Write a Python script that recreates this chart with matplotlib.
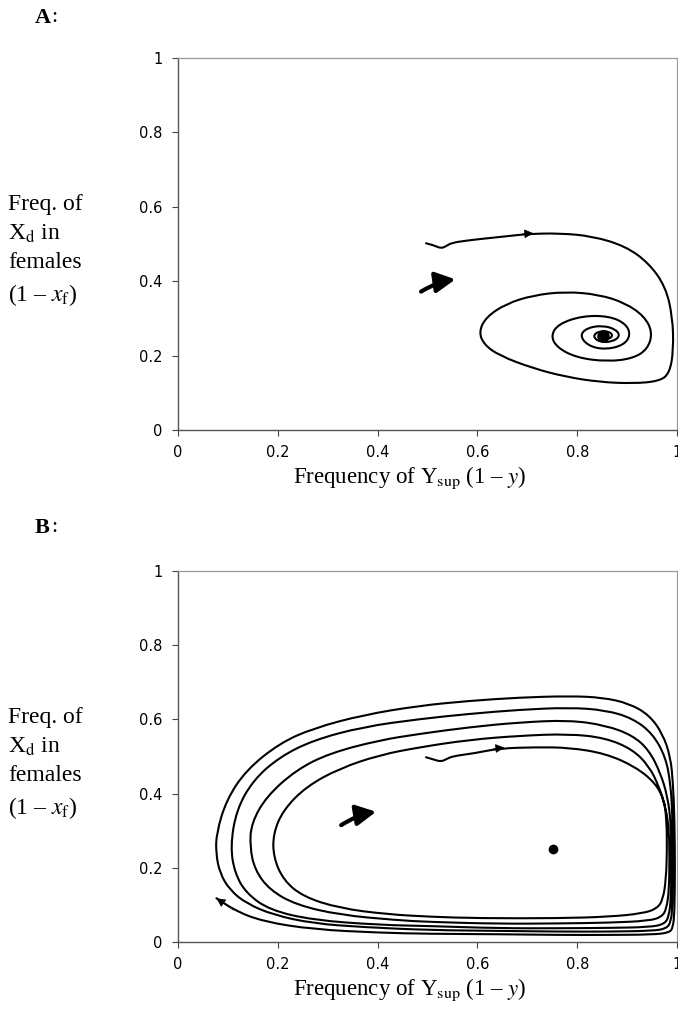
import matplotlib
matplotlib.use("Agg")
import matplotlib.pyplot as plt
from matplotlib.path import Path
from matplotlib.patches import PathPatch, FancyArrowPatch

plt.rcParams['font.family'] = ['Liberation Serif', 'DejaVu Serif']
plt.rcParams['mathtext.fontset'] = 'stix'

# ---- data ----
ticks = [0, 0.2, 0.4, 0.6, 0.8, 1]
tick_labels = ['0', '0.2', '0.4', '0.6', '0.8', '1']

# panel A: trajectory spiralling in to the equilibrium
a_traj = [(0.497, 0.502), (0.512, 0.497), (0.527, 0.488), (0.537, 0.494), (0.548, 0.503),
          (0.577, 0.509), (0.617, 0.515), (0.660, 0.521), (0.701, 0.527), (0.764, 0.529),
          (0.831, 0.521), (0.897, 0.494), (0.944, 0.448), (0.977, 0.385), (0.991, 0.305),
          (0.993, 0.215), (0.985, 0.152), (0.964, 0.131), (0.911, 0.125), (0.844, 0.129),
          (0.777, 0.143), (0.711, 0.166), (0.644, 0.200), (0.613, 0.230), (0.603, 0.264),
          (0.617, 0.303), (0.657, 0.339), (0.711, 0.362), (0.777, 0.372), (0.844, 0.364),
          (0.897, 0.341), (0.935, 0.305), (0.951, 0.262), (0.941, 0.217), (0.911, 0.192),
          (0.860, 0.184), (0.800, 0.194), (0.760, 0.221), (0.747, 0.253), (0.762, 0.285),
          (0.811, 0.307), (0.865, 0.306), (0.898, 0.285), (0.907, 0.255), (0.893, 0.228),
          (0.856, 0.216), (0.822, 0.226), (0.805, 0.254), (0.820, 0.275), (0.852, 0.281),
          (0.878, 0.270), (0.886, 0.252), (0.870, 0.237), (0.845, 0.236), (0.831, 0.252),
          (0.843, 0.266), (0.865, 0.265), (0.872, 0.252), (0.860, 0.243), (0.848, 0.247)]
a_eq = (0.852, 0.254)
a_head = [(0.690, 0.527), (0.712, 0.529)]
a_big_arrow = [(0.487, 0.372), (0.556, 0.405)]

# panel B: trajectory spiralling out towards the boundary
b_start = [(0.497, 0.498), (0.512, 0.492), (0.527, 0.486), (0.538, 0.493), (0.551, 0.501),
           (0.591, 0.508), (0.644, 0.522), (0.717, 0.525), (0.784, 0.524), (0.857, 0.508),
           (0.917, 0.472), (0.957, 0.428), (0.974, 0.383), (0.979, 0.33), (0.980, 0.25),
           (0.978, 0.17), (0.972, 0.115), (0.960, 0.090), (0.931, 0.077), (0.864, 0.068),
           (0.764, 0.064)]
b_loop1 = [(0.604, 0.064), (0.504, 0.068), (0.417, 0.075), (0.324, 0.091), (0.251, 0.122),
           (0.211, 0.167), (0.191, 0.230), (0.191, 0.293), (0.211, 0.356), (0.257, 0.419),
           (0.324, 0.468), (0.404, 0.504), (0.484, 0.525), (0.584, 0.545), (0.684, 0.556),
           (0.784, 0.561), (0.857, 0.550), (0.911, 0.519), (0.944, 0.474), (0.964, 0.419),
           (0.978, 0.36), (0.984, 0.30), (0.985, 0.22), (0.984, 0.14), (0.979, 0.09),
           (0.970, 0.068), (0.944, 0.057), (0.864, 0.052), (0.764, 0.050)]
b_loop2 = [(0.644, 0.049), (0.504, 0.054), (0.437, 0.059), (0.324, 0.073), (0.237, 0.100),
           (0.184, 0.140), (0.154, 0.194), (0.144, 0.257), (0.147, 0.320), (0.177, 0.392),
           (0.237, 0.464), (0.304, 0.509), (0.404, 0.544), (0.484, 0.561), (0.584, 0.579),
           (0.684, 0.592), (0.784, 0.598), (0.857, 0.584), (0.911, 0.557), (0.944, 0.517),
           (0.967, 0.455), (0.981, 0.392), (0.988, 0.32), (0.989, 0.22), (0.988, 0.12),
           (0.984, 0.07), (0.975, 0.048), (0.944, 0.040), (0.864, 0.038), (0.764, 0.037)]
b_loop3 = [(0.644, 0.037), (0.504, 0.043), (0.404, 0.046), (0.271, 0.059), (0.184, 0.086),
           (0.137, 0.131), (0.114, 0.185), (0.105, 0.257), (0.117, 0.356), (0.151, 0.437),
           (0.204, 0.499), (0.271, 0.544), (0.371, 0.580), (0.484, 0.601), (0.584, 0.615),
           (0.684, 0.626), (0.784, 0.632), (0.857, 0.625), (0.911, 0.603), (0.951, 0.562),
           (0.977, 0.499), (0.987, 0.428), (0.991, 0.34), (0.992, 0.22), (0.991, 0.10),
           (0.988, 0.055), (0.979, 0.036), (0.950, 0.030), (0.864, 0.028), (0.764, 0.028)]
b_loop4 = [(0.644, 0.030), (0.504, 0.032), (0.371, 0.040), (0.271, 0.050), (0.191, 0.073),
           (0.137, 0.104), (0.104, 0.140), (0.084, 0.185), (0.076, 0.239), (0.077, 0.293),
           (0.097, 0.383), (0.137, 0.464), (0.204, 0.536), (0.271, 0.576), (0.371, 0.612),
           (0.484, 0.637), (0.584, 0.650), (0.684, 0.659), (0.784, 0.663), (0.851, 0.659),
           (0.904, 0.643), (0.944, 0.612), (0.971, 0.562), (0.987, 0.499), (0.992, 0.428),
           (0.995, 0.33), (0.996, 0.20), (0.995, 0.08), (0.992, 0.040), (0.985, 0.025),
           (0.950, 0.020), (0.864, 0.019), (0.764, 0.019)]
b_end = [(0.644, 0.021), (0.504, 0.022), (0.404, 0.025), (0.271, 0.034), (0.171, 0.055),
         (0.111, 0.086), (0.077, 0.118)]
b_eq = (0.752, 0.250)
b_head = [(0.632, 0.521), (0.654, 0.524)]
b_big_arrow = [(0.327, 0.315), (0.397, 0.351)]

xlabel = r'Frequency of Y$_{\mathrm{sup}}$ (1 – $y$)'
ylabel = 'Freq. of\nX$_{\\mathrm{d}}$ in\nfemales\n(1 – $x_{\\mathrm{f}}$)'


def smooth_path(pts):
    # quadratic spline through midpoints so the trace looks hand smooth
    verts = [pts[0]]
    codes = [Path.MOVETO]
    for i in range(1, len(pts) - 1):
        nxt = pts[i + 1] if i == len(pts) - 2 else ((pts[i][0] + pts[i + 1][0]) / 2,
                                                   (pts[i][1] + pts[i + 1][1]) / 2)
        verts += [pts[i], nxt]
        codes += [Path.CURVE3, Path.CURVE3]
    return Path(verts, codes)


def style_axes(ax):
    ax.set_xlim(0, 1)
    ax.set_ylim(0, 1)
    ax.set_xticks(ticks)
    ax.set_xticklabels(tick_labels)
    ax.set_yticks(ticks)
    ax.set_yticklabels(tick_labels)
    for lab in ax.get_xticklabels() + ax.get_yticklabels():
        lab.set_family('DejaVu Sans')
        lab.set_fontsize(10.5)
    ax.tick_params(direction='out', length=4, width=0.8, color='#444444', pad=7)
    for s in ['left', 'bottom']:
        ax.spines[s].set_color('#555555')
        ax.spines[s].set_linewidth(1.0)
    for s in ['top', 'right']:
        ax.spines[s].set_color('#9a9a9a')
        ax.spines[s].set_linewidth(0.9)
    ax.set_xlabel(xlabel, fontsize=16.5)
    ax.xaxis.set_label_coords(0.465, -0.092)


def draw_panel(ax, traj, eq, eq_size, head, big_arrow):
    ax.add_patch(PathPatch(smooth_path(traj), fill=False, lw=1.5, ec='black',
                           capstyle='round', joinstyle='round'))
    ax.plot([eq[0]], [eq[1]], 'o', color='black', ms=eq_size)
    ax.add_patch(FancyArrowPatch(head[0], head[1], arrowstyle='-|>', mutation_scale=14,
                                 color='black', lw=0.5, shrinkA=0, shrinkB=0))
    ax.add_patch(FancyArrowPatch(big_arrow[0], big_arrow[1],
                                 arrowstyle='-|>,head_length=0.5,head_width=0.26',
                                 connectionstyle='arc3,rad=-0.1', mutation_scale=24,
                                 color='black', lw=3.0, shrinkA=0, shrinkB=0))


fig = plt.figure(figsize=(6.78, 10.10), dpi=100)
ax_a = fig.add_axes([178 / 678, 1 - 430 / 1010, 499 / 678, 372 / 1010])
ax_b = fig.add_axes([178 / 678, 1 - 942 / 1010, 499 / 678, 371 / 1010])

style_axes(ax_a)
style_axes(ax_b)

draw_panel(ax_a, a_traj, a_eq, 8, a_head, a_big_arrow)

b_traj = b_start + b_loop1 + b_loop2 + b_loop3 + b_loop4 + b_end
draw_panel(ax_b, b_traj, b_eq, 6, b_head, b_big_arrow)
ax_b.add_patch(FancyArrowPatch(b_end[-2], b_end[-1], arrowstyle='-|>', mutation_scale=14,
                               color='black', lw=0.5, shrinkA=0, shrinkB=0))

fig.text(35 / 678, 1 - 18 / 1010, 'A', fontsize=16, fontweight='bold', va='center')
fig.text(51 / 678, 1 - 18 / 1010, ':', fontsize=16, va='center')
fig.text(35 / 678, 1 - 528 / 1010, 'B', fontsize=16, fontweight='bold', va='center')
fig.text(51 / 678, 1 - 528 / 1010, ':', fontsize=16, va='center')

fig.text(8 / 678, 1 - 251 / 1010, ylabel, fontsize=17, va='center', ha='left', linespacing=1.45)
fig.text(8 / 678, 1 - 764 / 1010, ylabel, fontsize=17, va='center', ha='left', linespacing=1.45)

fig.savefig('out.png', dpi=100)
